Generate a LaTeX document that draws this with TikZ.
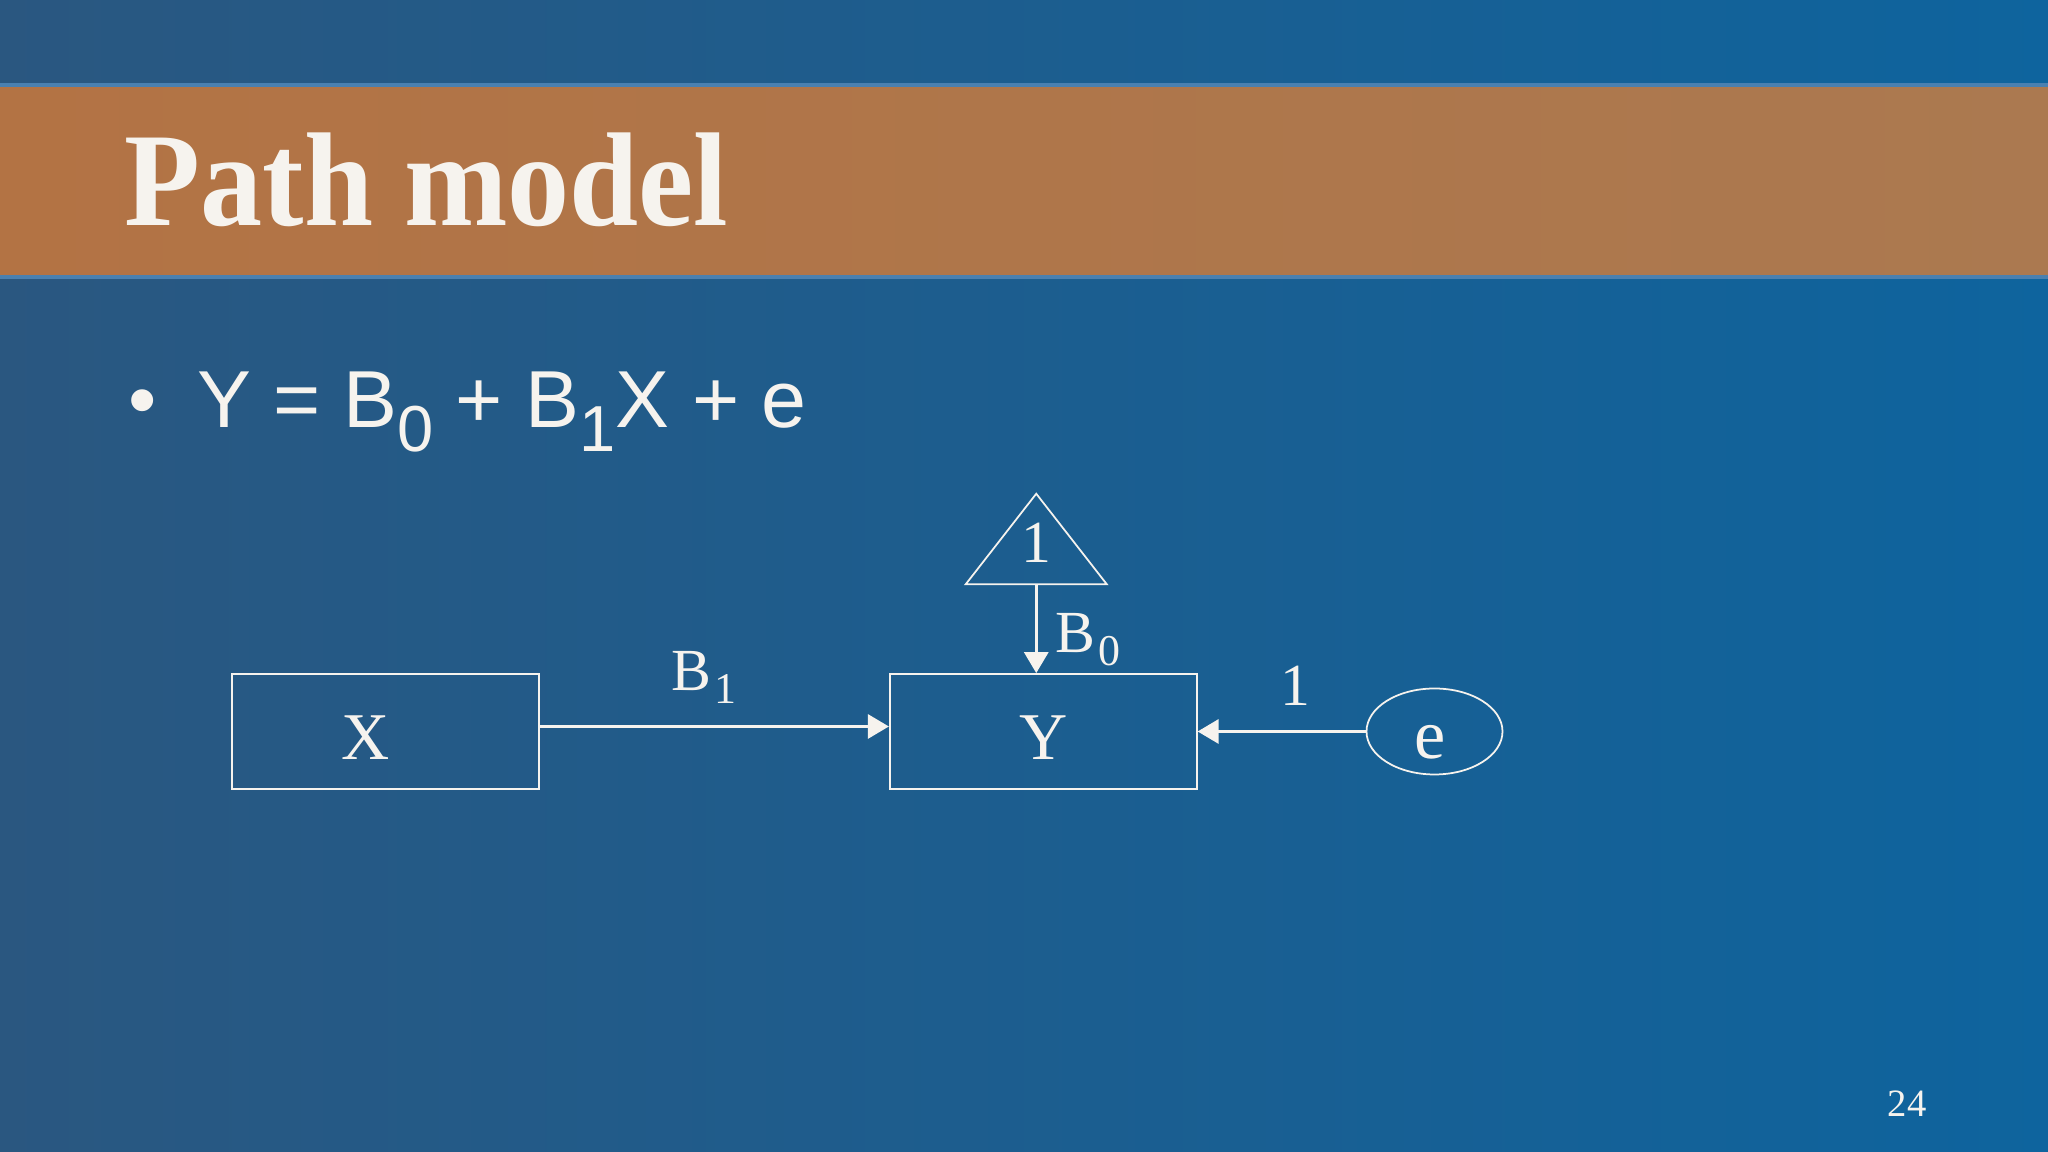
\documentclass[tikz,border=0pt]{standalone}
\usepackage{fontspec}
\setmainfont{Liberation Serif}
\newfontfamily\eqfont{Liberation Sans}
\usetikzlibrary{positioning,shapes.geometric,arrows.meta}

\definecolor{slideblueL}{RGB}{42,87,128}
\definecolor{slideblueR}{RGB}{14,100,158}
\definecolor{bandL}{RGB}{179,115,68}
\definecolor{bandR}{RGB}{171,121,80}
\definecolor{bandedge}{RGB}{74,128,176}
\definecolor{chalk}{RGB}{246,243,238}

\newcommand\eqsub[1]{\raisebox{-0.29em}{\fontsize{18.5}{18.5}\selectfont #1}}
\newcommand\lblsub[1]{\raisebox{-0.22em}{\fontsize{12.5}{12.5}\selectfont\hspace{0.08em}#1}}

\tikzset{
  obsvar/.style={rectangle, draw=chalk, line width=0.5pt, minimum width=3.07cm,
    minimum height=1.15cm, text height=0.57cm, text depth=0pt, text=chalk,
    font=\fontsize{19}{19}\selectfont},
  unit/.style={isosceles triangle, isosceles triangle stretches, shape border rotate=90,
    draw=chalk, line width=0.5pt, minimum width=1.41cm, minimum height=0.84cm,
    inner sep=0pt, text depth=0.15cm, text=chalk, font=\fontsize{17}{17}\selectfont},
  resid/.style={ellipse, draw=chalk, line width=0.5pt, minimum width=1.36cm,
    minimum height=0.86cm, inner sep=0pt, text height=0.55cm, text depth=0pt,
    text=chalk, font=\fontsize{20}{20}\selectfont},
  effect/.style={draw=chalk, line width=0.9pt, -{Triangle[length=2.1mm,width=2.4mm]}},
  coef/.style={text=chalk, font=\fontsize{17}{17}\selectfont, inner sep=2pt},
}

\begin{document}
\begin{tikzpicture}
    \useasboundingbox (0,0) rectangle (20.48,11.52);

    % Slide background
    \shade[left color=slideblueL, right color=slideblueR] (-0.1,-0.1) rectangle (20.58,11.62);
    \shade[left color=bandL, right color=bandR] (-0.1,8.75) rectangle (20.58,10.67);
    \draw[bandedge, line width=1.2pt] (-0.1,10.67) -- (20.58,10.67) (-0.1,8.75) -- (20.58,8.75);

    % Title and equation
    \node[anchor=base west, inner sep=0pt, text=chalk, font=\bfseries\fontsize{38}{38}\selectfont]
      (title) at (1.24,9.26) {\scalebox{0.93}[1]{Path model}};
    \node[anchor=base west, inner sep=0pt, text=chalk, font=\eqfont\fontsize{23}{23}\selectfont]
      (eq) at (1.28,7.24) {\textbullet\hspace{0.5em}Y = B\eqsub{0} + B\eqsub{1}X + e};

    % Define nodes
    \node[obsvar]                               (x) at (3.855,4.205) {X\kern0.4cm};
    \node[obsvar, right=3.49cm of x]            (y) {Y};
    \node[unit, above=0.88cm of y, xshift=-0.07cm] (one) {1};
    \node[resid, right=1.68cm of y]             (e) {e\kern0.08cm};

    % Connect the nodes
    \draw[effect] ([yshift=0.05cm]x.east) -- node[coef, above=4pt, pos=0.47] {B\lblsub{1}} ([yshift=0.05cm]y.west);
    \draw[effect] (one.south) -- node[coef, right=3pt, pos=0.62] {B\lblsub{0}} (one.south |- y.north);
    \draw[effect] (e) -- node[coef, above=5pt, pos=0.42] {1} (e -| y.east);

    % Page number
    \node[text=chalk, font=\fontsize{11}{11}\selectfont] (page) at (19.07,0.48) {24};

\end{tikzpicture}
\end{document}
